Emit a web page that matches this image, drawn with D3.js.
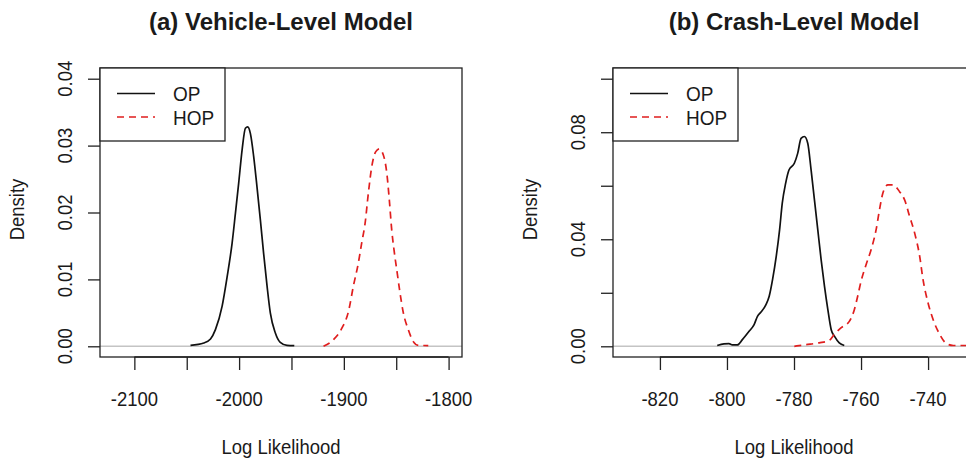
<!DOCTYPE html>
<html>
<head>
<meta charset="utf-8">
<script src="https://cdn.jsdelivr.net/npm/d3@7"></script>
<style>
  html, body { margin: 0; padding: 0; background: #fff; }
  svg { display: block; font-family: "Liberation Sans", Arial, sans-serif; }
</style>
</head>
<body>
<svg id="chart" width="966" height="458"></svg>
<script>
// ---------- data ----------
const titles = ["(a) Vehicle-Level Model", "(b) Crash-Level Model"];
const seriesNames = ["OP", "HOP"];
const xLabel = "Log Likelihood";
const yLabel = "Density";

// Panel (a)
const xLimA = [-2120, -1800];
const yLimA = [0, 0.04];
const xTicksA = [-2100, -2050, -2000, -1950, -1900, -1850, -1800];
const xTickLabelsA = ["-2100", "", "-2000", "", "-1900", "", "-1800"];
const yTicksA = [0, 0.01, 0.02, 0.03, 0.04];
const yTickLabelsA = ["0.00", "0.01", "0.02", "0.03", "0.04"];

const opA_x = [-2046.4, -2033.7, -2027.3, -2022.6, -2016.2, -2011.4, -2006.7, -2003.5, -2000.4, -1997.1, -1994.0, -1991.8, -1989.2, -1986.1, -1982.9, -1979.7, -1976.6, -1973.3, -1970.2, -1965.4, -1960.7, -1954.3, -1947.3];
const opA_y = [0.00015, 0.0005, 0.0011, 0.0025, 0.0060, 0.0104, 0.0154, 0.0199, 0.0244, 0.0294, 0.0326, 0.0328, 0.0318, 0.0284, 0.0238, 0.0189, 0.0139, 0.0090, 0.0050, 0.0020, 0.0006, 0.00015, 0.0001];
const hopA_x = [-1919.4, -1909.9, -1901.9, -1895.6, -1890.9, -1886.1, -1882.9, -1879.7, -1876.6, -1873.3, -1869.5, -1866.1, -1862.3, -1859.0, -1856.6, -1854.3, -1852.1, -1849.0, -1846.4, -1843.2, -1838.5, -1833.7, -1829.0, -1819.4];
const hopA_y = [0.0000, 0.0010, 0.0027, 0.0052, 0.0090, 0.0125, 0.0155, 0.0184, 0.0229, 0.0269, 0.0291, 0.0295, 0.0286, 0.0259, 0.0219, 0.0174, 0.0144, 0.0109, 0.0080, 0.0050, 0.0025, 0.0007, 0.00015, 0.0001];

// Panel (b)
const xLimB = [-830, -730];
const yLimB = [0, 0.10];
const xTicksB = [-820, -800, -780, -760, -740];
const xTickLabelsB = ["-820", "-800", "-780", "-760", "-740"];
const yTicksB = [0, 0.02, 0.04, 0.06, 0.08, 0.10];
const yTickLabelsB = ["0.00", "", "0.04", "", "0.08", ""];

const opB_x = [-802.9, -800.9, -799.4, -798.4, -796.9, -795.4, -793.4, -791.9, -790.9, -789.9, -788.4, -787.4, -786.4, -785.3, -784.3, -783.5, -782.5, -781.5, -779.9, -778.9, -777.9, -776.9, -775.9, -774.9, -773.9, -772.9, -771.9, -770.9, -769.9, -768.9, -767.9, -766.5, -765.0];
const opB_y = [0.0003, 0.0009, 0.0010, 0.0005, 0.0005, 0.0025, 0.0056, 0.0081, 0.0112, 0.0127, 0.0155, 0.0187, 0.0249, 0.0336, 0.0435, 0.0535, 0.0609, 0.0659, 0.0684, 0.0721, 0.0777, 0.0784, 0.0759, 0.0659, 0.0547, 0.0435, 0.0323, 0.0224, 0.0137, 0.0062, 0.0037, 0.0013, 0.0003];
const hopB_x = [-779.9, -776.4, -772.5, -769.5, -768.0, -766.0, -763.5, -762.0, -761.0, -760.0, -758.5, -757.0, -755.5, -754.5, -753.5, -752.0, -750.5, -748.5, -747.0, -745.5, -744.0, -742.5, -741.5, -740.0, -738.5, -736.5, -734.5, -732.5, -729.0, -725.0];
const hopB_y = [0.0000, 0.0006, 0.0013, 0.0022, 0.0044, 0.0069, 0.0093, 0.0137, 0.0187, 0.0243, 0.0305, 0.0361, 0.0436, 0.0510, 0.0572, 0.0603, 0.0603, 0.0578, 0.0547, 0.0485, 0.0423, 0.0336, 0.0249, 0.0162, 0.0100, 0.0044, 0.0010, 0.0003, 0.0003, 0.0002];

// ---------- drawing ----------
const svg = d3.select("#chart");
const COL_OP = "#111111";
const COL_HOP = "#e01e1e";
const TXT = "#1a1a1a";

function ext(lim) { const r = lim[1] - lim[0]; return [lim[0] - 0.04 * r, lim[1] + 0.04 * r]; }

function label(g, txt, x, y, opt) {
  opt = opt || {};
  const rot = opt.rotate || 0, sx = opt.sx == null ? 0.88 : opt.sx;
  g.append("text")
    .attr("transform", `translate(${x},${y}) rotate(${rot}) scale(${sx},1)`)
    .attr("text-anchor", opt.anchor || "middle")
    .attr("font-size", opt.size || 21)
    .attr("font-weight", opt.bold ? "bold" : "normal")
    .attr("fill", TXT)
    .text(txt);
}

function panel(p) {
  const left = p.left, top = 68, w = 362, h = 289;
  const x = d3.scaleLinear().domain(ext(p.xlim)).range([left, left + w]);
  const y = d3.scaleLinear().domain(ext(p.ylim)).range([top + h, top]);
  const g = svg.append("g");

  // zero reference line
  g.append("line")
    .attr("x1", left).attr("x2", left + w)
    .attr("y1", y(0)).attr("y2", y(0))
    .attr("stroke", "#c4c4c4").attr("stroke-width", 1.6);

  const line = d3.line().x(d => x(d[0])).y(d => y(d[1])).curve(d3.curveMonotoneX);
  g.append("path").datum(p.opX.map((v, i) => [v, p.opY[i]]))
    .attr("d", line).attr("fill", "none")
    .attr("stroke", COL_OP).attr("stroke-width", 1.7);
  g.append("path").datum(p.hopX.map((v, i) => [v, p.hopY[i]]))
    .attr("d", line).attr("fill", "none")
    .attr("stroke", COL_HOP).attr("stroke-width", 1.7)
    .attr("stroke-dasharray", "7,5");

  // box
  g.append("rect").attr("x", left).attr("y", top).attr("width", w).attr("height", h)
    .attr("fill", "none").attr("stroke", "#222").attr("stroke-width", 1.3);

  // x axis
  const xAxis = d3.axisBottom(x).tickValues(p.xTicks).tickSize(13).tickFormat("");
  const gx = g.append("g").attr("transform", `translate(0,${top + h})`).call(xAxis);
  gx.select(".domain").remove();
  gx.selectAll(".tick line").attr("stroke", "#222").attr("stroke-width", 1.3);
  p.xTicks.forEach((t, i) => { if (p.xTickLabels[i]) label(g, p.xTickLabels[i], x(t), 405.5); });
  g.append("line").attr("x1", x(p.xTicks[0])).attr("x2", x(p.xTicks[p.xTicks.length - 1]))
    .attr("y1", top + h).attr("y2", top + h).attr("stroke", "#222").attr("stroke-width", 1.3);

  // y axis
  const yAxis = d3.axisLeft(y).tickValues(p.yTicks).tickSize(12).tickFormat("");
  const gy = g.append("g").attr("transform", `translate(${left},0)`).call(yAxis);
  gy.select(".domain").remove();
  gy.selectAll(".tick line").attr("stroke", "#222").attr("stroke-width", 1.3);
  p.yTicks.forEach((t, i) => { if (p.yTickLabels[i]) label(g, p.yTickLabels[i], left - 28.5, y(t), { rotate: -90 }); });

  // axis titles
  label(g, xLabel, left + w / 2, 454);
  label(g, yLabel, left - 76.5, top + h / 2 - 3, { rotate: -90 });

  // title
  label(g, p.title, left + w / 2, 30, { bold: true, size: 24, sx: 1.0 });

  // legend
  const lw = 125, lh = 73;
  g.append("rect").attr("x", left).attr("y", top).attr("width", lw).attr("height", lh)
    .attr("fill", "#fff").attr("stroke", "#222").attr("stroke-width", 1.3);
  const items = [
    { name: seriesNames[0], col: COL_OP, dash: null, ly: 93.5, ty: 100.5 },
    { name: seriesNames[1], col: COL_HOP, dash: "7,5", ly: 117, ty: 125 }
  ];
  items.forEach(it => {
    g.append("line").attr("x1", left + 17).attr("x2", left + 55)
      .attr("y1", it.ly).attr("y2", it.ly)
      .attr("stroke", it.col).attr("stroke-width", 1.7)
      .attr("stroke-dasharray", it.dash);
    label(g, it.name, left + 73, it.ty, { anchor: "start", size: 20, sx: 0.95 });
  });
}

panel({ left: 100, xlim: xLimA, ylim: yLimA, xTicks: xTicksA, xTickLabels: xTickLabelsA,
        yTicks: yTicksA, yTickLabels: yTickLabelsA, opX: opA_x, opY: opA_y, hopX: hopA_x, hopY: hopA_y,
        title: titles[0] });
panel({ left: 613, xlim: xLimB, ylim: yLimB, xTicks: xTicksB, xTickLabels: xTickLabelsB,
        yTicks: yTicksB, yTickLabels: yTickLabelsB, opX: opB_x, opY: opB_y, hopX: hopB_x, hopY: hopB_y,
        title: titles[1] });
</script>
</body>
</html>
